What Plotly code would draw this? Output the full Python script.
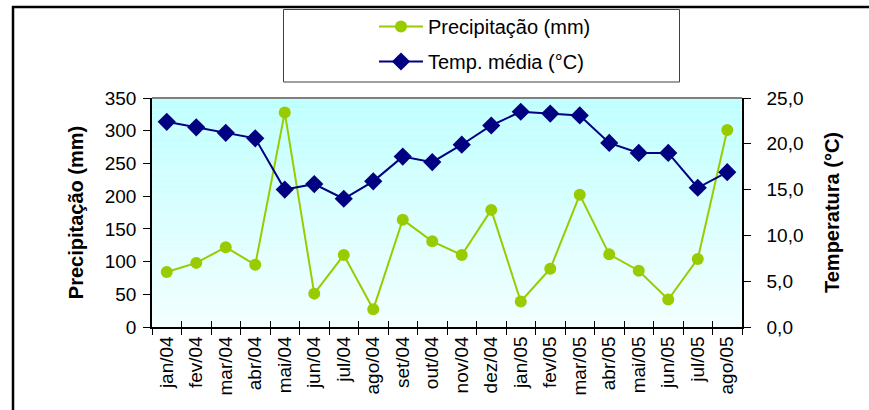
import plotly.graph_objects as go

months = ["jan/04", "fev/04", "mar/04", "abr/04", "mai/04", "jun/04", "jul/04", "ago/04",
          "set/04", "out/04", "nov/04", "dez/04", "jan/05", "fev/05", "mar/05", "abr/05",
          "mai/05", "jun/05", "jul/05", "ago/05"]
precip = [84, 98, 122, 95, 328, 51, 110, 27, 164, 131, 110, 179, 39, 89, 202, 111, 86, 42, 104, 301]
temp = [22.4, 21.8, 21.2, 20.6, 15.0, 15.6, 14.0, 15.9, 18.6, 18.0, 19.9, 22.0,
        23.5, 23.3, 23.1, 20.1, 19.0, 19.0, 15.2, 16.9]
left_ticks = [0, 50, 100, 150, 200, 250, 300, 350]
right_ticks = [0, 5, 10, 15, 20, 25]

W, H = 869, 410
ML, MR, MT, MB = 152, 127, 98, 83
PW, PH = W - ML - MR, H - MT - MB

def px_x(p):
    return (p - ML) / PW

def px_y(p):
    return (H - MB - p) / PH

FONT = "Liberation Sans, Arial, sans-serif"

fig = go.Figure()
fig.add_trace(go.Scatter(
    x=months, y=precip, name="Precipitação (mm)", mode="lines+markers",
    legendgroup="p",
    line=dict(color="#99cc00", width=2),
    marker=dict(symbol="circle", size=12, color="#99cc00"),
    yaxis="y", xaxis="x"))
fig.add_trace(go.Scatter(
    x=months, y=temp, name="Temp. média (°C)", mode="lines+markers",
    legendgroup="t",
    line=dict(color="#000080", width=2),
    marker=dict(symbol="diamond", size=14, color="#000080"),
    yaxis="y2", xaxis="x"))

shapes = []
# gradient background of plot area
N = 40
for i in range(N):
    t = i / (N - 1)
    g = int(round(192 + (242 - 192) * t))
    shapes.append(dict(type="rect", xref="x domain", yref="y domain",
                       x0=0, x1=1, y0=1 - (i + 1) / N, y1=1 - i / N,
                       fillcolor=f"rgb({g},255,255)", line=dict(width=0), layer="below"))
# top border of plot area
shapes.append(dict(type="line", xref="x domain", yref="y domain", x0=0, x1=1, y0=1, y1=1,
                   line=dict(color="#808080", width=2)))
# legend box
shapes.append(dict(type="rect", xref="paper", yref="paper",
                   x0=px_x(283.5), x1=px_x(679.5), y0=px_y(82), y1=px_y(9.5),
                   line=dict(color="#404040", width=1), fillcolor="white", layer="below"))
# outer frame
shapes.append(dict(type="line", xref="paper", yref="paper",
                   x0=px_x(12), x1=px_x(875), y0=px_y(7), y1=px_y(7),
                   line=dict(color="black", width=2.5)))
shapes.append(dict(type="line", xref="paper", yref="paper",
                   x0=px_x(13), x1=px_x(13), y0=px_y(6), y1=px_y(415),
                   line=dict(color="black", width=2.5)))

n = len(months)
fig.update_layout(
    width=W, height=H,
    margin=dict(l=ML, r=MR, t=MT, b=MB, autoexpand=False),
    paper_bgcolor="white", plot_bgcolor="rgba(0,0,0,0)",
    separators=",.",
    font=dict(family=FONT, color="black", size=19),
    showlegend=True,
    legend=dict(x=px_x(374), y=px_y(7), xanchor="left", yanchor="top",
                bgcolor="rgba(0,0,0,0)", borderwidth=0, itemwidth=44,
                font=dict(family=FONT, size=20, color="black"),
                tracegroupgap=6),
    xaxis=dict(type="category", categoryorder="array", categoryarray=months,
               range=[-0.5, n - 0.5], tickangle=-90, tickson="boundaries",
               ticks="outside", ticklen=6, tickcolor="black", showline=True,
               linecolor="black", linewidth=1.5, showgrid=False, zeroline=False,
               tickfont=dict(family=FONT, size=19)),
    xaxis2=dict(overlaying="x", range=[-0.5, n - 0.5], tickvals=[i - 0.5 for i in range(n + 1)],
                ticks="inside", ticklen=6, tickcolor="black", showticklabels=False,
                showgrid=False, zeroline=False, side="bottom", showline=False),
    yaxis=dict(range=[0, 350], tickvals=left_ticks, ticks="outside", ticklen=7,
               tickcolor="black", showline=True, linecolor="black", linewidth=1.5,
               showgrid=False, zeroline=False, ticklabelstandoff=3,
               tickfont=dict(family=FONT, size=19),
               title=dict(text="<b>Precipitação (mm)</b>", standoff=16,
                          font=dict(family=FONT, size=20))),
    yaxis2=dict(range=[0, 25], tickvals=right_ticks, tickformat=".1f", overlaying="y",
                side="right", ticks="outside", ticklen=7, tickcolor="black",
                showline=True, linecolor="black", linewidth=1.5, showgrid=False,
                zeroline=False, ticklabelstandoff=12,
                tickfont=dict(family=FONT, size=19),
                title=dict(text="<b>Temperatura (°C)</b>", standoff=22,
                           font=dict(family=FONT, size=20))),
    shapes=shapes,
)
fig.add_trace(go.Scatter(x=[None], y=[None], xaxis="x2", showlegend=False, hoverinfo="skip"))

fig.write_html("out.html")
